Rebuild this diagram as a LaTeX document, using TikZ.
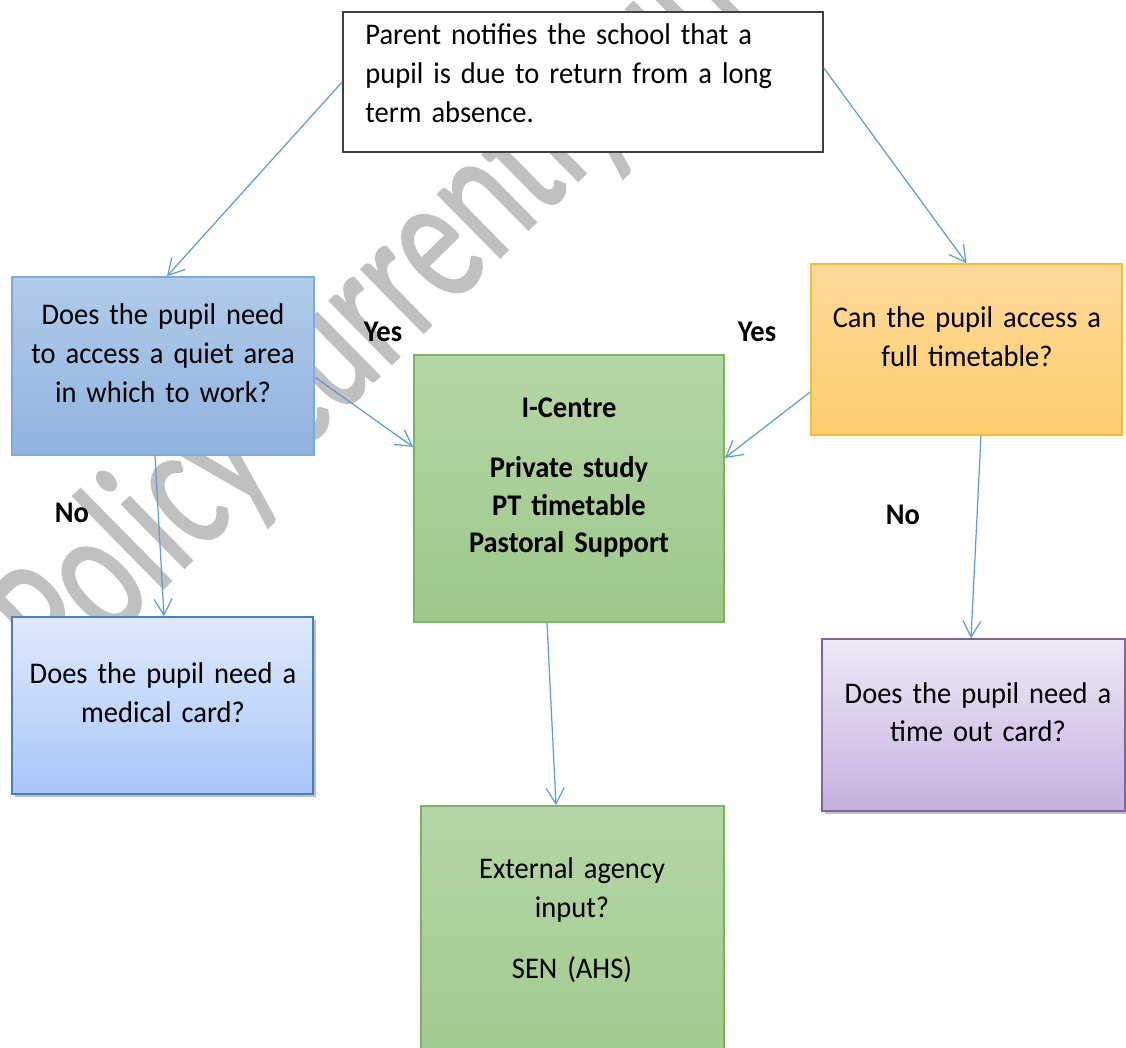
\documentclass[tikz,border=0pt]{standalone}
\usepackage{fontspec}
\setmainfont{Carlito}[FakeStretch=0.95, WordSpace=0.85]
\newfontfamily\wmfont{Carlito}[FakeBold=1.2]
\usetikzlibrary{arrows.meta,shadows}
\definecolor{connblue}{HTML}{5B9BD5}
\definecolor{wmgray}{HTML}{C0C0C0}
\definecolor{topborder}{HTML}{404040}
\definecolor{qbTop}{HTML}{B1CBEA}\definecolor{qbBot}{HTML}{8FB3DF}\definecolor{qbLine}{HTML}{7FA9DC}
\definecolor{qoTop}{HTML}{FED99A}\definecolor{qoBot}{HTML}{FDCE6E}\definecolor{qoLine}{HTML}{F6BB34}
\definecolor{grTop}{HTML}{B5D6A6}\definecolor{grBot}{HTML}{9DC889}\definecolor{grLine}{HTML}{7AB55C}
\definecolor{mdTop}{HTML}{DFE9FB}\definecolor{mdBot}{HTML}{A8C6F8}\definecolor{mdLine}{HTML}{4A7EBB}
\definecolor{puTop}{HTML}{EEE8F6}\definecolor{puBot}{HTML}{C4B1DF}\definecolor{puLine}{HTML}{8064A2}
\begin{document}
\begin{tikzpicture}[x=0.5pt,y=-0.5pt,
  boxbase/.style={rectangle, inner sep=0pt, line width=0.8pt},
  startbox/.style={boxbase, draw=topborder, fill=white, minimum width=240pt, minimum height=70pt},
  bluebox/.style={boxbase, draw=qbLine, top color=qbTop, bottom color=qbBot},
  orangebox/.style={boxbase, draw=qoLine, top color=qoTop, bottom color=qoBot},
  greenbox/.style={boxbase, draw=grLine, top color=grTop, bottom color=grBot},
  medbox/.style={boxbase, draw=mdLine, top color=mdTop, bottom color=mdBot, shadowed},
  purplebox/.style={boxbase, draw=puLine, top color=puTop, bottom color=puBot, shadowed},
  shadowed/.style={drop shadow={shadow xshift=1.5pt, shadow yshift=-1.5pt, opacity=0.25, fill=black}},
  txt/.style={font=\fontsize{15}{19.5}\selectfont, inner sep=0pt, anchor=base, text width=150pt, align=center},
  lefttxt/.style={font=\fontsize{15}{19.5}\selectfont, inner sep=0pt, anchor=base west, text width=235pt, align=left},
  lbl/.style={font=\fontsize{15}{19.5}\selectfont\bfseries, inner sep=0pt, anchor=base},
  wm/.style={font=\wmfont\fontsize{64}{70}\selectfont, text=wmgray, inner sep=0pt},
  conn/.style={draw=connblue, line width=0.6pt, -{Straight Barb[length=8pt,width=9pt,line width=0.6pt]}}
]
\useasboundingbox (0,0) rectangle (1126,1048);
\clip (0,0) rectangle (1126,1048);
\fill[white] (0,0) rectangle (1126,1048);

% watermark
\begin{scope}[shift={(63,687)}, rotate=44.5, yscale=1.45]
  \node[wm, transform shape, anchor=base west] (wmark) at (0,0) {Policy currently under review};
\end{scope}

% boxes
\node[startbox] (top) at (583,82) {};
\node[bluebox, minimum width=151pt, minimum height=89pt] (q1) at (163,366) {};
\node[orangebox, minimum width=155.5pt, minimum height=85.5pt] (q2) at (966.5,349.5) {};
\node[greenbox, minimum width=155pt, minimum height=133.5pt] (ic) at (569,488.5) {};
\node[medbox, minimum width=150.5pt, minimum height=88.5pt] (med) at (162.5,705.5) {};
\node[purplebox, minimum width=151.5pt, minimum height=86pt] (to) at (973.5,725) {};
\node[greenbox, minimum width=151.5pt, minimum height=147pt] (ext) at (572.5,953) {};

% texts
\node[lefttxt] (ttop) at (365,45) {Parent notifies the school that a\\pupil is due to return from a long\\term absence.};
\node[txt] (tq1) at (163,325) {Does the pupil need\\to access a quiet area\\in which to work?};
\node[txt] (tq2) at (967,328) {Can the pupil access a\\full timetable?};
\node[txt, font=\fontsize{15}{18.75}\selectfont\bfseries] (tic) at (569,418) {I-Centre\\[11.25pt]Private study\\PT timetable\\Pastoral Support};
\node[txt] (tmed) at (163,683) {Does the pupil need a\\medical card?};
\node[txt] (tto) at (978,703) {Does the pupil need a\\time out card?};
\node[txt] (text) at (572,878) {External agency\\input?\\[11pt]SEN (AHS)};

% labels
\node[lbl] (yes1) at (383,342) {Yes};
\node[lbl] (yes2) at (757,342) {Yes};
\node[lbl] (no1) at (72,523) {No};
\node[lbl] (no2) at (903,524) {No};

% connectors
\draw[conn] (top.west) -- ([xshift=2pt]q1.north);
\draw[conn] ([yshift=7pt]top.east) -- (q2.north);
\draw[conn] ([yshift=-5.5pt]q1.east) -- ([yshift=20.75pt]ic.west);
\draw[conn] ([yshift=-21.25pt]q2.west) -- ([yshift=15.25pt]ic.east);
\draw[conn] ([xshift=-4pt]q1.south) -- ([xshift=0.75pt]med.north);
\draw[conn] ([xshift=7.25pt]q2.south) -- ([xshift=-1.25pt]to.north);
\draw[conn] ([xshift=-11pt]ic.south) -- ([xshift=-8.25pt]ext.north);
\end{tikzpicture}
\end{document}
